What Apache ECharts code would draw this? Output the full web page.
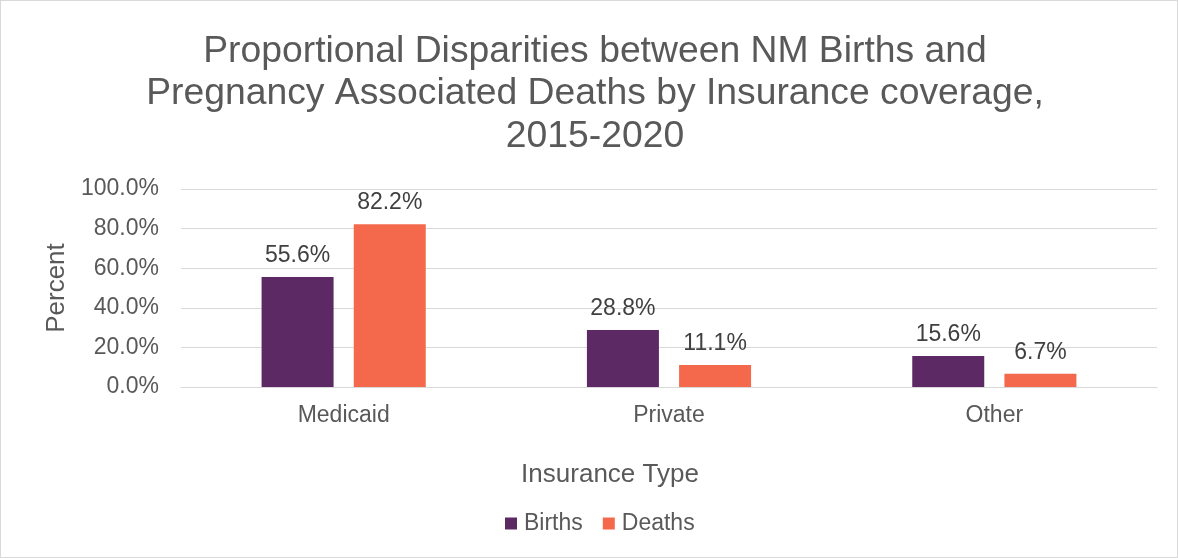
<!DOCTYPE html>
<html><head><meta charset="utf-8">
<script src="https://cdn.jsdelivr.net/npm/echarts@6/dist/echarts.min.js"></script>
<style>html,body{margin:0;padding:0;background:#fff}#c{width:1178px;height:558px;box-sizing:border-box;border:1px solid #d9d9d9}</style>
</head><body><div id="c"></div>
<script>
var categories = ['Medicaid', 'Private', 'Other'];
var births = [55.6, 28.8, 15.6];
var deaths = [82.2, 11.1, 6.7];
var yTicks = [0, 20, 40, 60, 80, 100];

var chart = echarts.init(document.getElementById('c'));
var font = 'Liberation Sans, Arial, sans-serif';
var txt = '#595959';
chart.setOption({
  animation: false,
  textStyle: {fontFamily: font},
  title: {
    text: 'Proportional Disparities between NM Births and\nPregnancy Associated Deaths by Insurance coverage,\n2015-2020',
    left: 589, textAlign: 'center', top: 24,
    textStyle: {fontFamily: font, fontSize: 37.3, fontWeight: 'normal', color: txt, lineHeight: 42.5}
  },
  legend: {
    data: ['Births', 'Deaths'], bottom: 17, left: 499,
    itemWidth: 12, itemHeight: 12, itemGap: 20, icon: 'rect',
    textStyle: {fontFamily: font, fontSize: 23, color: txt, padding: [0, 0, 0, 2]}
  },
  grid: {left: 180, right: 20, top: 188, bottom: 170},
  xAxis: {
    type: 'category', data: categories,
    name: 'Insurance Type', nameLocation: 'middle', nameGap: 75,
    nameTextStyle: {fontFamily: font, fontSize: 26, color: txt, padding: [0, 118, 0, 0]},
    axisLine: {lineStyle: {color: '#d9d9d9', width: 1}},
    axisTick: {show: false},
    axisLabel: {fontFamily: font, fontSize: 23, color: txt, margin: 17}
  },
  yAxis: {
    type: 'value', min: 0, max: 100, interval: 20,
    name: 'Percent', nameLocation: 'middle', nameGap: 110,
    nameTextStyle: {fontFamily: font, fontSize: 26, color: txt},
    axisLine: {show: false}, axisTick: {show: false},
    splitLine: {lineStyle: {color: '#d9d9d9', width: 1}},
    axisLabel: {fontFamily: font, fontSize: 23, color: txt, margin: 22,
      formatter: function (v) { return v.toFixed(1) + '%'; }}
  },
  series: [
    {name: 'Births', type: 'bar', data: births, barWidth: 72, barGap: '28%',
     itemStyle: {color: '#5C2964'},
     label: {show: true, position: 'top', distance: 10, fontFamily: font, fontSize: 23, color: '#404040',
       formatter: function (p) { return p.value.toFixed(1) + '%'; }}},
    {name: 'Deaths', type: 'bar', data: deaths, barWidth: 72,
     itemStyle: {color: '#F4694C'},
     label: {show: true, position: 'top', distance: 10, fontFamily: font, fontSize: 23, color: '#404040',
       formatter: function (p) { return p.value.toFixed(1) + '%'; }}}
  ]
});
</script></body></html>
